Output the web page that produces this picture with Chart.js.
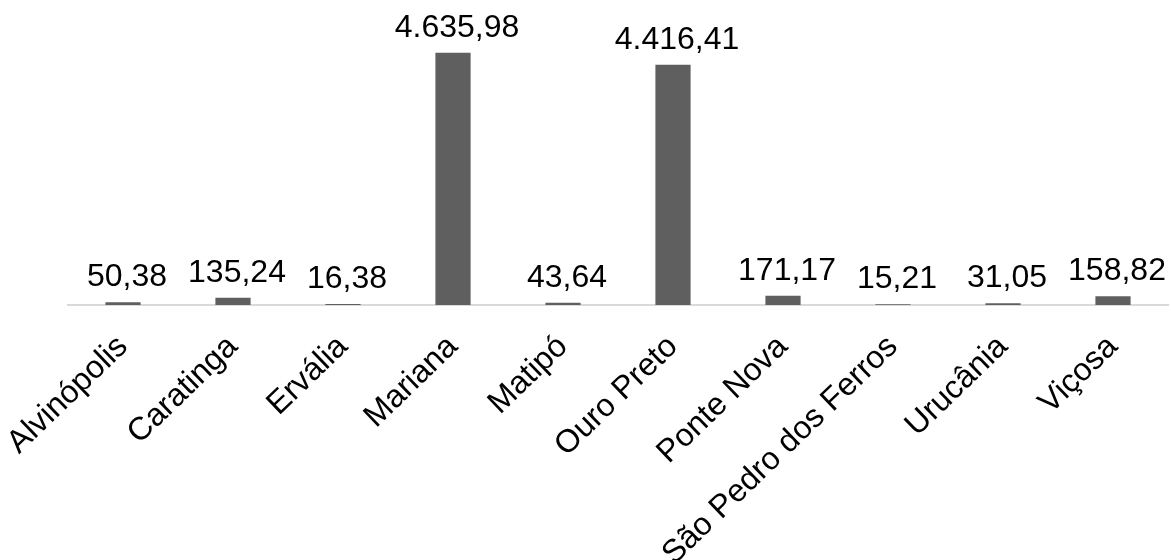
<!DOCTYPE html>
<html>
<head>
<meta charset="utf-8">
<script src="https://cdn.jsdelivr.net/npm/chart.js@4/dist/chart.umd.min.js"></script>
<style>
  html, body { margin: 0; padding: 0; background: #ffffff; }
  #wrap { width: 1171px; height: 560px; }
</style>
</head>
<body>
<div id="wrap"><canvas id="grafico"></canvas></div>
<script>
// municípios e valores
const municipios = ['Alvinópolis', 'Caratinga', 'Ervália', 'Mariana', 'Matipó', 'Ouro Preto', 'Ponte Nova', 'São Pedro dos Ferros', 'Urucânia', 'Viçosa'];
const valores = [50.38, 135.24, 16.38, 4635.98, 43.64, 4416.41, 171.17, 15.21, 31.05, 158.82];
const eixoY = [0, 5000];

const fonte = '"Liberation Sans", Arial, sans-serif';

function formatar(v) {
    return v.toLocaleString('pt-BR', { minimumFractionDigits: 2, maximumFractionDigits: 2 });
}

// escreve o valor em cima de cada barra
const rotulosValores = {
    id: 'rotulosValores',
    afterDatasetsDraw(chart) {
        const ctx = chart.ctx;
        const meta = chart.getDatasetMeta(0);
        ctx.save();
        ctx.font = '32px ' + fonte;
        ctx.fillStyle = '#000000';
        ctx.textAlign = 'center';
        ctx.textBaseline = 'alphabetic';
        meta.data.forEach((bar, i) => {
            ctx.fillText(formatar(valores[i]), bar.x + 4, bar.y - 16);
        });
        ctx.restore();
    }
};

const data = {
    labels: municipios,
    datasets: [{
        data: valores,
        backgroundColor: '#5f5f5f',
        borderWidth: 0,
        barPercentage: 0.32,
        categoryPercentage: 1.0
    }]
};

const config = {
    type: 'bar',
    data: data,
    options: {
        responsive: true,
        maintainAspectRatio: false,
        animation: false,
        layout: {
            padding: { left: 68, right: 3, top: 33, bottom: 0 }
        },
        plugins: {
            legend: { display: false },
            tooltip: { enabled: false }
        },
        scales: {
            x: {
                grid: { display: false },
                border: { display: true, color: '#d9d9d9', width: 2 },
                ticks: {
                    color: '#000000',
                    font: { family: fonte, size: 32 },
                    minRotation: 44,
                    maxRotation: 44,
                    autoSkip: false,
                    padding: 15
                },
                afterFit: (scale) => {
                    // o primeiro rótulo pode sair pela esquerda
                    scale.height = 255;
                    scale.paddingLeft = 0;
                    scale.paddingRight = 0;
                }
            },
            y: {
                display: false,
                min: eixoY[0],
                max: eixoY[1]
            }
        }
    },
    plugins: [rotulosValores]
};

new Chart(document.getElementById('grafico'), config);
</script>
</body>
</html>
